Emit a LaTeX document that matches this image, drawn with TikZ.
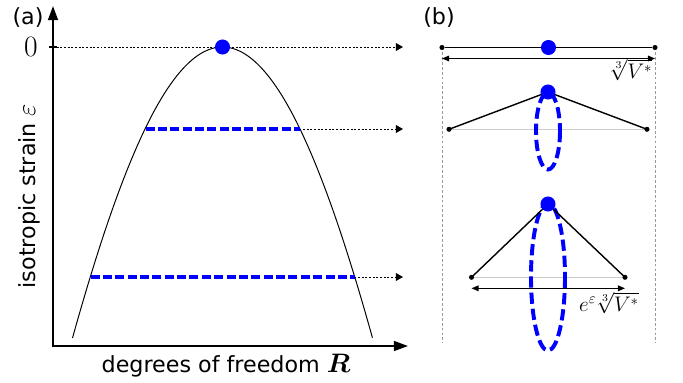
\RequirePackage{fix-cm}
\documentclass[tikz,border=0pt]{standalone}
\usepackage{fontspec}
\setmainfont{DejaVu Sans}
\usepackage{amsmath,bm}
\usetikzlibrary{arrows.meta}
\newcommand{\bigmath}[1]{{\fontsize{19}{20}\selectfont$#1$}}

\begin{document}
\begin{tikzpicture}[x=0.025cm, y=-0.025cm,
  every node/.style={font=\fontsize{15.8}{18}\selectfont},
  axisarrow/.style={line width=1.4pt, {Triangle[length=10pt,width=7pt]}-{Triangle[length=10pt,width=7pt]}},
  guidearrow/.style={line width=0.7pt, dash pattern=on 1.4pt off 1.2pt, -{Triangle[length=5pt,width=5.5pt]}},
  levelcut/.style={blue, line width=2.8pt, dash pattern=on 6.4pt off 2.4pt},
  orbit/.style={blue, line width=2.8pt, dash pattern=on 8pt off 3.5pt},
  bluedot/.style={circle, fill=blue, inner sep=0pt, minimum size=10.7pt},
  atom/.style={circle, fill=black, inner sep=0pt, minimum size=3.6pt},
  bond/.style={line width=1pt},
  chord/.style={black!20, line width=1pt},
  extent/.style={line width=0.8pt, {Triangle[length=5pt,width=4pt]}-{Triangle[length=5pt,width=4pt]}},
  frameline/.style={black!40, line width=0.5pt, dash pattern=on 2pt off 1.5pt},
  mathlabel/.style={font=\fontsize{15}{17}\selectfont}]
\useasboundingbox (0,0) rectangle (683,382);

\coordinate (ytop) at (53,6);
\coordinate (origin) at (53,346);
\coordinate (xend) at (408,346);
\coordinate (zero) at (53,47);
\coordinate (g0) at (403,47);
\coordinate (c1l) at (145.5,129);
\coordinate (c1r) at (299.5,129);
\coordinate (g1) at (403,129);
\coordinate (c2l) at (90.5,277);
\coordinate (c2r) at (354.5,277);
\coordinate (g2) at (403,277);

\draw[axisarrow] (ytop) -- (origin) -- (xend);
\draw[line width=1.4pt] (zero) ++(-4,0) -- ++(8,0);
\node[font=\fontsize{21}{24}\selectfont] (zerolabel) at (31,47) {$0$};
\draw[guidearrow] (zero) -- (g0);
\draw[guidearrow] (c1r) -- (g1);
\draw[guidearrow] (c2r) -- (g2);
\draw[line width=0.7pt, domain=-1.5:1.5, samples=61, smooth] plot ({222.5+100*\x},{47+139.15*\x*\x-4.37*\x*\x*\x*\x});
\draw[levelcut] (c1l) -- (c1r);
\draw[levelcut] (c2l) -- (c2r);
\node[bluedot] (peak) at (222.5,47) {};

\node (tagA) at (28,18) {(a)};
\node[rotate=90] (ylab) at (29,196) {isotropic strain \bigmath{\varepsilon}};
\node (xlab) at (226,366) {degrees of freedom \bigmath{\bm{R}}};

\node (tagB) at (439,18) {(b)};
\coordinate (f1t) at (442,52);
\coordinate (f1b) at (442,343);
\coordinate (f2t) at (655,52);
\coordinate (f2b) at (655,343);
\draw[frameline] (f1t) -- (f1b);
\draw[frameline] (f2t) -- (f2b);

\node[atom] (a1) at (442,47.5) {};
\node[atom] (b1) at (655,47.5) {};
\draw[bond] (a1) -- (b1);
\node[bluedot] (m1) at (548.5,47.5) {};
\coordinate (s1l) at (442,58.5);
\coordinate (s1r) at (655,58.5);
\draw[extent] (s1l) -- (s1r);
\node[mathlabel] (v1) at (631,70) {$\sqrt[3]{V^*}$};

\coordinate (a2) at (449,129.3);
\coordinate (b2) at (647,129.3);
\coordinate (m2) at (548,92);
\draw[chord] (a2) -- (b2);
\draw[orbit] (548,131) ellipse [x radius=12, y radius=38.5];
\draw[bond] (a2) -- (m2) -- (b2);
\node[atom] at (a2) {};
\node[atom] at (b2) {};
\node[bluedot] at (m2) {};

\coordinate (a3) at (471.5,277.3);
\coordinate (b3) at (625,277.3);
\coordinate (m3) at (548,204);
\draw[chord] (a3) -- (b3);
\draw[orbit] (548,277) ellipse [x radius=17, y radius=73.5];
\draw[bond] (a3) -- (m3) -- (b3);
\node[atom] at (a3) {};
\node[atom] at (b3) {};
\node[bluedot] at (m3) {};
\coordinate (s3l) at (471.5,288.3);
\coordinate (s3r) at (625,288.3);
\draw[extent] (s3l) -- (s3r);
\node[mathlabel] (v3) at (609,303) {$e^{\varepsilon}\sqrt[3]{V^*}$};
\end{tikzpicture}
\end{document}
